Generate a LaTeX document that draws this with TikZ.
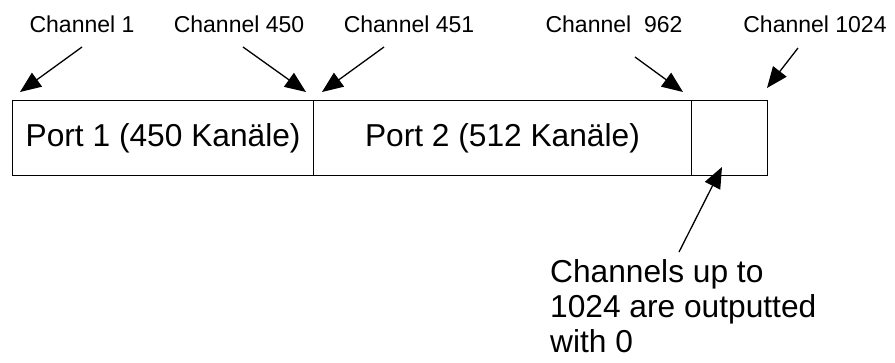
\documentclass[tikz,border=0pt]{standalone}
\usepackage{fontspec}
\setmainfont{Liberation Sans}
\usetikzlibrary{arrows.meta}
\begin{document}
\begin{tikzpicture}[x=1pt,y=-1pt,
  cell/.style={draw, line width=1.2pt, minimum height=75.5pt, inner sep=0pt,
    font=\fontsize{31.7}{37}\selectfont, anchor=north west},
  lab/.style={font=\fontsize{23}{27}\selectfont, inner sep=0pt, anchor=base},
  arr/.style={line width=1.3pt, -{Triangle[length=21pt,width=17pt]}}]
\useasboundingbox (0,0) rectangle (895,362);
% cells
\node[cell, minimum width=301pt]   (p1) at (12,99.5)    {Port 1 (450 Kanäle)};
\node[cell, minimum width=377.7pt] (p2) at (313,99.5)   {Port 2 (512 Kanäle)};
\node[cell, minimum width=76pt]    (p3) at (690.7,99.5) {};
% labels
\node[lab] (l1)    at (82,32)  {Channel 1};
\node[lab] (l450)  at (239,32) {Channel 450};
\node[lab] (l451)  at (409,32) {Channel 451};
\node[lab] (l962)  at (614,32) {Channel \ 962};
\node[lab] (l1024) at (815,32) {Channel 1024};
% arrow ends
\coordinate (s1) at (82,47);   \coordinate (t1) at (20,92);
\coordinate (s2) at (243,47);  \coordinate (t2) at (306,92);
\coordinate (s3) at (384,47);  \coordinate (t3) at (322,92);
\coordinate (s4) at (635,57);  \coordinate (t4) at (683,92);
\coordinate (s5) at (798,48);  \coordinate (t5) at (767,88);
\draw[arr] (s1) -- (t1);
\draw[arr] (s2) -- (t2);
\draw[arr] (s3) -- (t3);
\draw[arr] (s4) -- (t4);
\draw[arr] (s5) -- (t5);
% annotation
\node[font=\fontsize{31.7}{35}\selectfont, align=left, inner sep=0pt, anchor=north west]
  (ann) at (550,259) {Channels up to\\1024 are outputted\\with 0};
\coordinate (s6) at (679,252); \coordinate (t6) at (722,167);
\draw[arr] (s6) -- (t6);
\end{tikzpicture}
\end{document}
